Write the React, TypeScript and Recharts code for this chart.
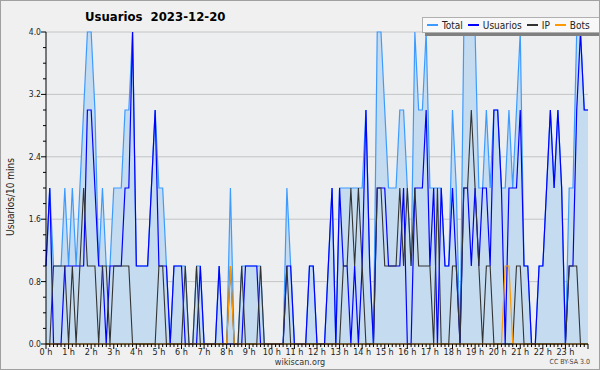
import React from 'react';
import { ComposedChart, Area, Line, XAxis, YAxis, CartesianGrid } from 'recharts';

const FONT = "'DejaVu Sans Condensed', 'DejaVu Sans', sans-serif";

const hourLabels = [
  '0 h', '1 h', '2 h', '3 h', '4 h', '5 h', '6 h', '7 h', '8 h', '9 h', '10 h', '11 h',
  '12 h', '13 h', '14 h', '15 h', '16 h', '17 h', '18 h', '19 h', '20 h', '21 h', '22 h', '23 h',
];

// one value per 10 minutes, one row per hour, last value = 24 h
const total = [
  1, 2, 1, 1, 1, 2,
  1, 2, 1, 2, 3, 4,
  4, 3, 1, 2, 1, 1,
  2, 2, 2, 3, 3, 4,
  1, 1, 1, 1, 2, 3,
  2, 2, 1, 0, 1, 1,
  1, 1, 0, 0, 1, 1,
  0, 0, 0, 0, 1, 0,
  0, 2, 0, 0, 1, 1,
  1, 1, 1, 1, 0, 0,
  0, 0, 0, 0, 2, 1,
  0, 0, 0, 0, 1, 1,
  0, 0, 0, 1, 2, 0,
  2, 2, 2, 2, 2, 2,
  2, 3, 1, 0, 4, 4,
  3, 2, 2, 2, 3, 3,
  2, 1, 4, 3, 3, 4,
  2, 2, 2, 2, 1, 1,
  3, 2, 0, 4, 4, 4,
  4, 2, 2, 3, 2, 3,
  3, 2, 2, 3, 2, 3,
  4, 1, 1, 0, 0, 1,
  1, 2, 3, 2, 3, 2,
  0, 2, 2, 4, 4, 3,
  3,
];

const usuarios = [
  1, 2, 0, 0, 0, 1,
  1, 1, 1, 1, 1, 3,
  3, 2, 1, 1, 0, 1,
  1, 1, 1, 2, 2, 4,
  1, 1, 1, 1, 2, 3,
  1, 1, 1, 0, 1, 1,
  1, 0, 0, 0, 0, 1,
  0, 0, 0, 0, 1, 0,
  0, 0, 0, 0, 0, 1,
  1, 1, 1, 0, 0, 0,
  0, 0, 0, 0, 1, 1,
  0, 0, 0, 0, 1, 1,
  0, 0, 0, 1, 2, 0,
  2, 1, 1, 0, 1, 0,
  1, 3, 1, 0, 2, 2,
  2, 1, 1, 1, 1, 2,
  0, 0, 2, 2, 2, 3,
  1, 2, 0, 2, 1, 1,
  2, 1, 0, 2, 2, 1,
  2, 1, 2, 2, 1, 3,
  3, 2, 0, 2, 2, 2,
  3, 1, 1, 0, 0, 1,
  1, 2, 3, 2, 3, 2,
  0, 1, 1, 3, 4, 3,
  3,
];

const ip = [
  0, 0, 1, 1, 1, 1,
  0, 1, 0, 1, 2, 1,
  1, 1, 0, 1, 1, 0,
  1, 1, 1, 1, 1, 0,
  0, 0, 0, 0, 0, 0,
  1, 1, 0, 0, 0, 0,
  0, 1, 0, 0, 1, 0,
  0, 0, 0, 0, 0, 0,
  0, 1, 0, 0, 1, 0,
  0, 0, 0, 1, 0, 0,
  0, 0, 0, 0, 1, 0,
  0, 0, 0, 0, 0, 0,
  0, 0, 0, 0, 0, 0,
  0, 1, 1, 2, 1, 2,
  1, 0, 0, 0, 2, 2,
  1, 1, 1, 1, 2, 1,
  2, 1, 2, 1, 1, 1,
  1, 0, 2, 0, 0, 0,
  1, 1, 0, 2, 2, 3,
  2, 1, 0, 1, 1, 0,
  0, 0, 0, 0, 0, 1,
  1, 0, 0, 0, 0, 0,
  0, 0, 0, 0, 0, 0,
  0, 1, 1, 1, 0, 0,
  0,
];

const bots = [
  0, 0, 0, 0, 0, 0,
  0, 0, 0, 0, 0, 0,
  0, 0, 0, 0, 0, 0,
  0, 0, 0, 0, 0, 0,
  0, 0, 0, 0, 0, 0,
  0, 0, 0, 0, 0, 0,
  0, 0, 0, 0, 0, 0,
  0, 0, 0, 0, 0, 0,
  0, 1, 0, 0, 0, 0,
  0, 0, 0, 0, 0, 0,
  0, 0, 0, 0, 0, 0,
  0, 0, 0, 0, 0, 0,
  0, 0, 0, 0, 0, 0,
  0, 0, 0, 0, 0, 0,
  0, 0, 0, 0, 0, 0,
  0, 0, 0, 0, 0, 0,
  0, 0, 0, 0, 0, 0,
  0, 0, 0, 0, 0, 0,
  0, 0, 0, 0, 0, 0,
  0, 0, 0, 0, 0, 0,
  0, 0, 1, 1, 0, 0,
  0, 0, 0, 0, 0, 0,
  0, 0, 0, 0, 0, 0,
  0, 0, 0, 0, 0, 0,
  0,
];

const yLabelTicks = [0, 0.8, 1.6, 2.4, 3.2, 4.0];
const yMinorTicks = [0, 0.2, 0.4, 0.6, 0.8, 1.0, 1.2, 1.4, 1.6, 1.8, 2.0, 2.2, 2.4, 2.6, 2.8, 3.0, 3.2, 3.4, 3.6, 3.8, 4.0];
const xTicks = total.map((_, i) => i);

const colors = { total: '#3d9bff', fill: '#c5dcf0', usuarios: '#0000ff', ip: '#333333', bots: '#ff9900' };
const legendItems = [
  { name: 'Total', color: colors.total },
  { name: 'Usuarios', color: colors.usuarios },
  { name: 'IP', color: colors.ip },
  { name: 'Bots', color: colors.bots },
];

const data = total.map((v, i) => ({ t: i, total: v, usuarios: usuarios[i], ip: ip[i], bots: bots[i] }));

const XTick = (props: any) => {
  const { x, y, payload } = props;
  const v = payload.value as number;
  const hour = v % 6 === 0;
  return (
    <g>
      <line x1={x} x2={x} y1={y} y2={y + (hour ? 5 : 3)} stroke="#000" />
      {hour && v < 144 && (
        <text x={x} y={y + 11} textAnchor="middle" fontSize={9} fill="#222" fontFamily={FONT} style={{ fontStretch: 'condensed' }}>
          {hourLabels[v / 6]}
        </text>
      )}
    </g>
  );
};

const YTick = (props: any) => {
  const { x, y, payload } = props;
  const v = payload.value as number;
  const labelled = yLabelTicks.some((t) => Math.abs(t - v) < 1e-6);
  return (
    <g>
      <line x1={x - (labelled ? 5 : 3)} x2={x} y1={y} y2={y} stroke="#000" />
      {labelled && (
        <text x={x - 5} y={y + 3} textAnchor="end" fontSize={8.5} fill="#222" fontFamily={FONT} style={{ fontStretch: 'condensed' }}>
          {v.toFixed(1)}
        </text>
      )}
    </g>
  );
};

export default function App() {
  return (
    <div style={{ position: 'absolute', left: 0, top: 0, width: 600, height: 370, background: '#f0f0f0', overflow: 'hidden', fontFamily: FONT, fontStretch: 'condensed' }}>
      <ComposedChart width={600} height={370} data={data} margin={{ top: 32, right: 12, bottom: 0, left: 0 }}>
        <CartesianGrid horizontal={false} vertical={false} fill="#eceef0" stroke="none" />
        <XAxis
          dataKey="t"
          type="number"
          domain={[0, 144]}
          ticks={xTicks}
          interval={0}
          height={26}
          tickSize={0}
          tickMargin={0}
          tickLine={false}
          tick={<XTick />}
          axisLine={{ stroke: '#000' }}
        />
        <YAxis
          type="number"
          domain={[0, 4]}
          ticks={yMinorTicks}
          interval={0}
          width={46}
          tickSize={0}
          tickMargin={0}
          tickLine={false}
          tick={<YTick />}
          axisLine={{ stroke: '#000' }}
        />
        <Area type="linear" dataKey="total" stroke="none" fill={colors.fill} fillOpacity={1} dot={false} activeDot={false} isAnimationActive={false} />
        <CartesianGrid vertical={false} horizontalValues={yLabelTicks} stroke="#c4c4c4" fill="none" />
        <Line type="linear" dataKey="total" stroke={colors.total} strokeWidth={1.2} dot={false} activeDot={false} isAnimationActive={false} />
        <Line type="linear" dataKey="usuarios" stroke={colors.usuarios} strokeWidth={1.2} dot={false} activeDot={false} isAnimationActive={false} />
        <Line type="linear" dataKey="ip" stroke={colors.ip} strokeWidth={1.1} dot={false} activeDot={false} isAnimationActive={false} />
        <Line type="linear" dataKey="bots" stroke={colors.bots} strokeWidth={1.2} dot={false} activeDot={false} isAnimationActive={false} />
      </ComposedChart>

      <div style={{ position: 'absolute', left: 85, top: 9, fontSize: 13, fontWeight: 'bold', color: '#000', whiteSpace: 'pre' }}>
        {'Usuarios  2023-12-20'}
      </div>

      <div style={{ position: 'absolute', left: 422, top: 17, height: 16, boxSizing: 'border-box', padding: '0 6px 0 4px', background: '#f8f8f8', border: '1px solid #b0b0b0', boxShadow: '3px 3px 0 #808080', display: 'flex', alignItems: 'center', fontSize: 10, color: '#222' }}>
        {legendItems.map((it) => (
          <span key={it.name} style={{ display: 'flex', alignItems: 'center', marginRight: 5 }}>
            <span style={{ display: 'inline-block', width: 11, height: 1.5, background: it.color, marginRight: 4 }} />
            {it.name}
          </span>
        ))}
      </div>

      <div style={{ position: 'absolute', left: 10, top: 197, transform: 'translate(-50%, -50%) rotate(-90deg)', fontSize: 10, color: '#222', whiteSpace: 'nowrap' }}>
        Usuarios/10 mins
      </div>

      <div style={{ position: 'absolute', left: 0, width: 600, top: 357, lineHeight: '10px', textAlign: 'center', fontSize: 9, color: '#333' }}>wikiscan.org</div>
      <div style={{ position: 'absolute', right: 10, top: 358, lineHeight: '9px', fontSize: 7, color: '#444' }}>CC BY-SA 3.0</div>

      <div style={{ position: 'absolute', left: 0, top: 0, width: 600, height: 370, boxSizing: 'border-box', border: '1px solid #a0a0a0', pointerEvents: 'none' }} />
    </div>
  );
}
